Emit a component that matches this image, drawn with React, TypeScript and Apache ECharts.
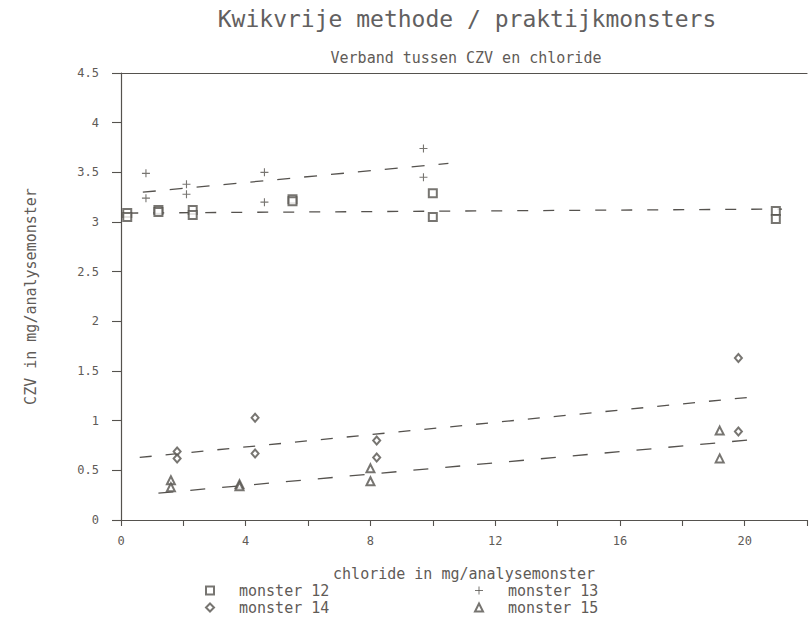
import React, { useEffect, useRef } from "react";
import * as echarts from "echarts";

const TITLE = "Kwikvrije methode / praktijkmonsters";
const SUBTITLE = "Verband tussen CZV en chloride";
const X_NAME = "chloride in mg/analysemonster";
const Y_NAME = "CZV in mg/analysemonster";

const seriesNames = ["monster 12", "monster 13", "monster 14", "monster 15"];

const m12X = [0.2, 0.2, 1.2, 1.2, 2.3, 2.3, 5.5, 5.5, 10.0, 10.0, 21.0, 21.0];
const m12Y = [3.09, 3.05, 3.12, 3.10, 3.12, 3.07, 3.23, 3.21, 3.29, 3.05, 3.11, 3.03];

const m13X = [0.8, 0.8, 2.1, 2.1, 4.6, 4.6, 9.7, 9.7];
const m13Y = [3.49, 3.24, 3.38, 3.28, 3.50, 3.20, 3.74, 3.45];

const m14X = [1.8, 1.8, 4.3, 4.3, 8.2, 8.2, 19.8, 19.8];
const m14Y = [0.69, 0.62, 1.03, 0.67, 0.80, 0.63, 1.63, 0.89];

const m15X = [1.6, 1.6, 3.8, 3.8, 8.0, 8.0, 19.2, 19.2];
const m15Y = [0.40, 0.33, 0.36, 0.34, 0.52, 0.39, 0.90, 0.62];

// regression lines (end points)
const fit12X = [0.2, 21.2];
const fit12Y = [3.09, 3.13];
const fit13X = [0.7, 10.5];
const fit13Y = [3.30, 3.59];
const fit14X = [0.6, 20.3];
const fit14Y = [0.63, 1.24];
const fit15X = [1.2, 20.3];
const fit15Y = [0.27, 0.81];

const X_MIN = 0;
const X_MAX = 22;
const X_STEP = 2;
const Y_MIN = 0;
const Y_MAX = 4.5;
const Y_STEP = 0.5;

const INK = "#55524e";
const TXT = "#5f5b57";
const FONT = "DejaVu Sans Mono";

const zip = (xs: number[], ys: number[]) => xs.map((x, i) => [x, ys[i]]);

const PLUS = "path://M5,0L5,10M0,5L10,5";

export default function App() {
  const ref = useRef<HTMLDivElement>(null);

  useEffect(() => {
    if (!ref.current) return;
    const chart = echarts.init(ref.current, undefined, { renderer: "svg" });

    const markerBase = {
      type: "scatter" as const,
      symbolSize: 8,
      itemStyle: { color: INK, borderColor: INK, borderWidth: 1.1 },
      z: 3,
    };
    const fitLine = (xs: number[], ys: number[], dash: number[]) => ({
      type: "line" as const,
      data: zip(xs, ys),
      symbol: "none",
      silent: true,
      lineStyle: { color: INK, width: 1.3, type: dash },
      z: 2,
    });

    const labelText = {
      color: TXT,
      fontFamily: FONT,
      fontSize: 15,
      lineHeight: 14,
      padding: [0, 0, 0, 20],
    };
    const legendBase = {
      orient: "vertical" as const,
      top: 583,
      padding: 0,
      itemWidth: 8,
      itemHeight: 8,
      itemGap: 2,
      selectedMode: false,
      textStyle: labelText,
      itemStyle: { borderWidth: 1 },
    };

    chart.setOption({
      animation: false,
      backgroundColor: "#ffffff",
      textStyle: { fontFamily: FONT },
      grid: { left: 121, top: 73, bottom: 103, right: -11, containLabel: false },
      graphic: [
        {
          type: "text",
          x: 467,
          y: 19,
          style: {
            text: TITLE,
            fill: "#626060",
            font: `23px "${FONT}"`,
            textAlign: "center",
            textVerticalAlign: "middle",
          },
        },
        {
          type: "text",
          x: 466,
          y: 58,
          style: {
            text: SUBTITLE,
            fill: TXT,
            font: `15px "${FONT}"`,
            textAlign: "center",
            textVerticalAlign: "middle",
          },
        },
      ],
      legend: [
        {
          ...legendBase,
          left: 205,
          data: [
            { name: seriesNames[0], icon: "emptyRect" },
            { name: seriesNames[2], icon: "emptyDiamond" },
          ],
        },
        {
          ...legendBase,
          left: 474,
          data: [
            { name: seriesNames[1], icon: PLUS },
            { name: seriesNames[3], icon: "emptyTriangle" },
          ],
        },
      ],
      xAxis: [
        {
          type: "value",
          min: X_MIN,
          max: X_MAX,
          interval: X_STEP,
          name: X_NAME,
          nameLocation: "middle",
          nameGap: 46,
          nameTextStyle: { color: TXT, fontFamily: FONT, fontSize: 15 },
          axisLine: { show: true, onZero: false, lineStyle: { color: INK, width: 1.2 } },
          axisTick: { show: true, inside: false, length: 6, lineStyle: { color: INK, width: 1.1 } },
          axisLabel: {
            color: TXT,
            fontFamily: FONT,
            fontSize: 12,
            margin: 15,
            formatter: (v: number) => (v % 4 === 0 ? String(v) : ""),
          },
          splitLine: { show: false },
        },
        {
          type: "value",
          position: "top",
          min: X_MIN,
          max: X_MAX,
          interval: X_STEP,
          axisLine: { show: true, onZero: false, lineStyle: { color: INK, width: 1.2 } },
          axisTick: { show: false },
          axisLabel: { show: false },
          splitLine: { show: false },
        },
      ],
      yAxis: {
        type: "value",
        min: Y_MIN,
        max: Y_MAX,
        interval: Y_STEP,
        name: Y_NAME,
        nameLocation: "middle",
        nameGap: 83,
        nameRotate: 90,
        nameTextStyle: { color: TXT, fontFamily: FONT, fontSize: 15 },
        axisLine: { show: true, onZero: false, lineStyle: { color: INK, width: 1.2 } },
        axisTick: { show: true, inside: false, length: 9, lineStyle: { color: INK, width: 1.1 } },
        axisLabel: { color: TXT, fontFamily: FONT, fontSize: 12, margin: 22 },
        splitLine: { show: false },
      },
      series: [
        { ...markerBase, name: seriesNames[0], symbol: "emptyRect", data: zip(m12X, m12Y) },
        { ...markerBase, name: seriesNames[1], symbol: PLUS, symbolSize: 8, data: zip(m13X, m13Y) },
        { ...markerBase, name: seriesNames[2], symbol: "emptyDiamond", symbolSize: [7, 8], data: zip(m14X, m14Y) },
        { ...markerBase, name: seriesNames[3], symbol: "emptyTriangle", data: zip(m15X, m15Y) },
        fitLine(fit12X, fit12Y, [11, 15]),
        fitLine(fit13X, fit13Y, [13, 14]),
        fitLine(fit14X, fit14Y, [12, 14]),
        fitLine(fit15X, fit15Y, [15, 17]),
      ],
    });

    return () => chart.dispose();
  }, []);

  return (
    <div
      ref={ref}
      style={{ position: "fixed", left: 0, top: 0, width: 810, height: 623, background: "#fff" }}
    />
  );
}
